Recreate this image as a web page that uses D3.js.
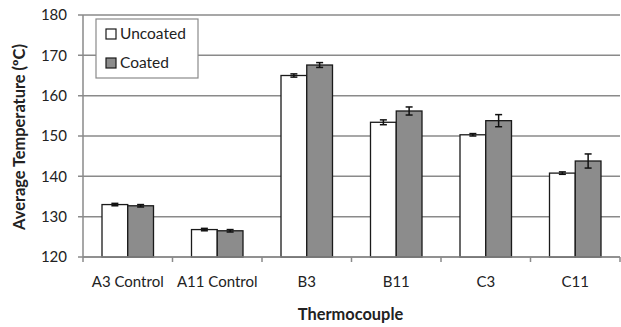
<!DOCTYPE html>
<html>
<head>
<meta charset="utf-8">
<script src="https://cdn.jsdelivr.net/npm/d3@7"></script>
<style>
  body { margin: 0; background: #fff; }
  text { font-family: Lato, "Open Sans", sans-serif; fill: #222; }
</style>
</head>
<body>
<div id="chart"></div>
<script>
const categories = ["A3 Control", "A11 Control", "B3", "B11", "C3", "C11"];
const seriesNames = ["Uncoated", "Coated"];
const uncoated = [133.0, 126.8, 165.0, 153.4, 150.3, 140.8];
const coated = [132.7, 126.5, 167.6, 156.2, 153.8, 143.8];
const uncoatedErr = [0.3, 0.3, 0.4, 0.6, 0.3, 0.3];
const coatedErr = [0.3, 0.3, 0.6, 1.0, 1.5, 1.75];
const yTicks = [120, 130, 140, 150, 160, 170, 180];

const width = 621, height = 327;
const margin = { top: 15, right: 1, bottom: 70, left: 83 };
const plotW = width - margin.left - margin.right;
const plotH = height - margin.top - margin.bottom;
const fills = ["#ffffff", "#8c8c8c"];

const svg = d3.select("#chart").append("svg")
  .attr("width", width)
  .attr("height", height);
const g = svg.append("g")
  .attr("transform", "translate(" + margin.left + "," + margin.top + ")");

const x = d3.scaleBand().domain(categories).range([0, plotW]).paddingInner(0).paddingOuter(0);
const inner = d3.scaleBand().domain(seriesNames).range([19, x.bandwidth() - 19]);
const y = d3.scaleLinear().domain([120, 180]).range([plotH, 0]);

// gridlines
g.selectAll("line.grid")
  .data(yTicks)
  .enter().append("line")
  .attr("class", "grid")
  .attr("x1", -5).attr("x2", plotW)
  .attr("y1", d => y(d)).attr("y2", d => y(d))
  .attr("stroke", "#8a8a8a").attr("stroke-width", 1.5);

// y labels
g.selectAll("text.ylab")
  .data(yTicks)
  .enter().append("text")
  .attr("class", "ylab")
  .attr("x", -16).attr("y", d => y(d)).attr("dy", "0.35em")
  .attr("text-anchor", "end")
  .style("font-size", "15px")
  .text(d => d);

// y axis line
g.append("line")
  .attr("x1", 0).attr("x2", 0).attr("y1", 0).attr("y2", plotH)
  .attr("stroke", "#8a8a8a").attr("stroke-width", 1.5);

// x category ticks
const boundaries = categories.map(c => x(c)).concat([plotW]);
g.selectAll("line.xtick")
  .data(boundaries)
  .enter().append("line")
  .attr("x1", d => d).attr("x2", d => d)
  .attr("y1", plotH).attr("y2", plotH + 5)
  .attr("stroke", "#8a8a8a").attr("stroke-width", 1.5);

// bars
const rows = [];
categories.forEach((c, i) => {
  rows.push({ cat: c, s: 0, v: uncoated[i], e: uncoatedErr[i] });
  rows.push({ cat: c, s: 1, v: coated[i], e: coatedErr[i] });
});

g.selectAll("rect.bar")
  .data(rows)
  .enter().append("rect")
  .attr("class", "bar")
  .attr("x", d => x(d.cat) + inner(seriesNames[d.s]))
  .attr("y", d => y(d.v))
  .attr("width", inner.bandwidth())
  .attr("height", d => plotH - y(d.v))
  .attr("fill", d => fills[d.s])
  .attr("stroke", "#1a1a1a").attr("stroke-width", 1.3);

// x axis baseline on top of bars
g.append("line")
  .attr("x1", 0).attr("x2", plotW).attr("y1", plotH).attr("y2", plotH)
  .attr("stroke", "#8a8a8a").attr("stroke-width", 1.5);

// error bars
const eb = g.selectAll("g.err")
  .data(rows)
  .enter().append("g")
  .attr("transform", d => "translate(" + (x(d.cat) + inner(seriesNames[d.s]) + inner.bandwidth() / 2) + ",0)");
eb.append("line")
  .attr("x1", 0).attr("x2", 0)
  .attr("y1", d => y(d.v + d.e)).attr("y2", d => y(d.v - d.e))
  .attr("stroke", "#111").attr("stroke-width", 1.5);
eb.selectAll("line.cap")
  .data(d => [d.v + d.e, d.v - d.e])
  .enter().append("line")
  .attr("x1", -3.5).attr("x2", 3.5)
  .attr("y1", d => y(d)).attr("y2", d => y(d))
  .attr("stroke", "#111").attr("stroke-width", 1.5);

// x labels
g.selectAll("text.xlab")
  .data(categories)
  .enter().append("text")
  .attr("x", d => x(d) + x.bandwidth() / 2)
  .attr("y", plotH + 30)
  .attr("text-anchor", "middle")
  .style("font-size", "15px")
  .text(d => d);

// axis titles
svg.append("text")
  .attr("x", margin.left + plotW / 2 - 1)
  .attr("y", 320)
  .attr("text-anchor", "middle")
  .style("font-size", "16.4px").style("font-weight", "bold")
  .text("Thermocouple");
svg.append("text")
  .attr("transform", "translate(25,137) rotate(-90)")
  .attr("text-anchor", "middle")
  .style("font-size", "16.4px").style("font-weight", "bold")
  .text("Average Temperature (ºC)");

// legend
const legend = svg.append("g").attr("transform", "translate(96,19)");
legend.append("rect")
  .attr("width", 102).attr("height", 59)
  .attr("fill", "#fff").attr("stroke", "#8a8a8a").attr("stroke-width", 1.2);
seriesNames.forEach((name, i) => {
  const ly = 15 + i * 29;
  legend.append("rect")
    .attr("x", 10).attr("y", ly - 5).attr("width", 10).attr("height", 10)
    .attr("fill", fills[i]).attr("stroke", "#1a1a1a").attr("stroke-width", 1.2);
  legend.append("text")
    .attr("x", 24).attr("y", ly).attr("dy", "0.35em")
    .style("font-size", "15.5px")
    .text(name);
});
</script>
</body>
</html>
